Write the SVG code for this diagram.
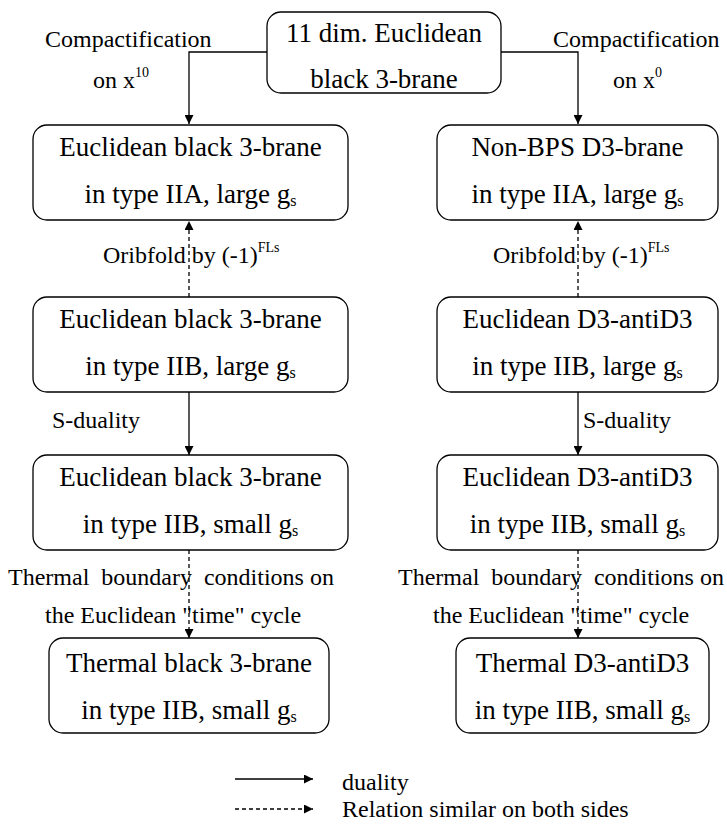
<svg xmlns="http://www.w3.org/2000/svg" width="727" height="825" viewBox="0 0 727 825">
<style>
  .box { fill: #fff; stroke: #000; stroke-width: 1.3; }
  .t { font-family: "Liberation Serif", "Times New Roman", serif; font-size: 27px; fill: #000; text-anchor: middle; }
  .l { font-family: "Liberation Serif", "Times New Roman", serif; font-size: 24px; fill: #000; white-space: pre; }
  .c { fill: none; stroke: #000; stroke-width: 1.3; }
  .d { stroke-dasharray: 4 3; }
  .sub { font-size: 16px; }
  .sup { font-size: 14px; }
</style>
<defs>
  <marker id="ah" viewBox="0 0 10 10" refX="10" refY="5" markerWidth="9" markerHeight="9" markerUnits="userSpaceOnUse" orient="auto">
    <path d="M0,0 L10,5 L0,10 z" fill="#000"/>
  </marker>
</defs>

<g id="connectors">
  <path class="c" d="M267,52 H189 V124" marker-end="url(#ah)"/>
  <path class="c" d="M501,52 H578 V124" marker-end="url(#ah)"/>
  <path class="c d" d="M189,297 V221" marker-end="url(#ah)"/>
  <path class="c d" d="M578,297 V221" marker-end="url(#ah)"/>
  <path class="c" d="M189,392 V455" marker-end="url(#ah)"/>
  <path class="c" d="M578,392 V455" marker-end="url(#ah)"/>
  <path class="c d" d="M189,550 V638" marker-end="url(#ah)"/>
  <path class="c d" d="M578,550 V638" marker-end="url(#ah)"/>
</g>

<g id="labels">
  <text class="l" x="45" y="47">Compactification</text>
  <text class="l" x="93" y="88">on x<tspan class="sup" dy="-11">10</tspan></text>
  <text class="l" x="553" y="47">Compactification</text>
  <text class="l" x="613" y="88">on x<tspan class="sup" dy="-11">0</tspan></text>
  <text class="l" x="103" y="263">Oribfold by (-1)<tspan class="sup" dy="-11">FLs</tspan></text>
  <text class="l" x="493" y="263">Oribfold by (-1)<tspan class="sup" dy="-11">FLs</tspan></text>
  <text class="l" x="52" y="428">S-duality</text>
  <text class="l" x="583" y="428">S-duality</text>
  <text class="l" x="8" y="585">Thermal  boundary  conditions on</text>
  <text class="l" x="45" y="623">the Euclidean "time" cycle</text>
  <text class="l" x="398" y="585">Thermal  boundary  conditions on</text>
  <text class="l" x="433" y="623">the Euclidean "time" cycle</text>
</g>

<g id="n-top">
  <rect class="box" x="267" y="12" width="234" height="81" rx="14"/>
  <text class="t" x="384" y="42">11 dim. Euclidean</text>
  <text class="t" x="384" y="88">black 3-brane</text>
</g>

<g id="n-l1">
  <rect class="box" x="33" y="125" width="315" height="95" rx="14"/>
  <text class="t" x="190.5" y="156">Euclidean black 3-brane</text>
  <text class="t" x="190.5" y="203">in type IIA, large g<tspan class="sub" dy="3">s</tspan></text>
</g>
<g id="n-r1">
  <rect class="box" x="437" y="125" width="281" height="95" rx="14"/>
  <text class="t" x="577.5" y="156">Non-BPS D3-brane</text>
  <text class="t" x="577.5" y="203">in type IIA, large g<tspan class="sub" dy="3">s</tspan></text>
</g>

<g id="n-l2">
  <rect class="box" x="33" y="297" width="315" height="95" rx="14"/>
  <text class="t" x="190.5" y="328">Euclidean black 3-brane</text>
  <text class="t" x="190.5" y="375">in type IIB, large g<tspan class="sub" dy="3">s</tspan></text>
</g>
<g id="n-r2">
  <rect class="box" x="437" y="297" width="281" height="95" rx="14"/>
  <text class="t" x="577.5" y="328">Euclidean D3-antiD3</text>
  <text class="t" x="577.5" y="375">in type IIB, large g<tspan class="sub" dy="3">s</tspan></text>
</g>

<g id="n-l3">
  <rect class="box" x="33" y="455" width="315" height="95" rx="14"/>
  <text class="t" x="190.5" y="486">Euclidean black 3-brane</text>
  <text class="t" x="190.5" y="533">in type IIB, small g<tspan class="sub" dy="3">s</tspan></text>
</g>
<g id="n-r3">
  <rect class="box" x="437" y="455" width="281" height="95" rx="14"/>
  <text class="t" x="577.5" y="486">Euclidean D3-antiD3</text>
  <text class="t" x="577.5" y="533">in type IIB, small g<tspan class="sub" dy="3">s</tspan></text>
</g>

<g id="n-l4">
  <rect class="box" x="49" y="638" width="280" height="95" rx="14"/>
  <text class="t" x="189" y="672">Thermal black 3-brane</text>
  <text class="t" x="189" y="719">in type IIB, small g<tspan class="sub" dy="3">s</tspan></text>
</g>
<g id="n-r4">
  <rect class="box" x="456" y="638" width="253" height="95" rx="14"/>
  <text class="t" x="582.5" y="672">Thermal D3-antiD3</text>
  <text class="t" x="582.5" y="719">in type IIB, small g<tspan class="sub" dy="3">s</tspan></text>
</g>

<g id="legend">
  <path class="c" d="M235,779 H313" marker-end="url(#ah)"/>
  <path class="c d" d="M235,809 H313" marker-end="url(#ah)"/>
  <text class="l" x="342" y="790">duality</text>
  <text class="l" x="342" y="817">Relation similar on both sides</text>
</g>
</svg>
